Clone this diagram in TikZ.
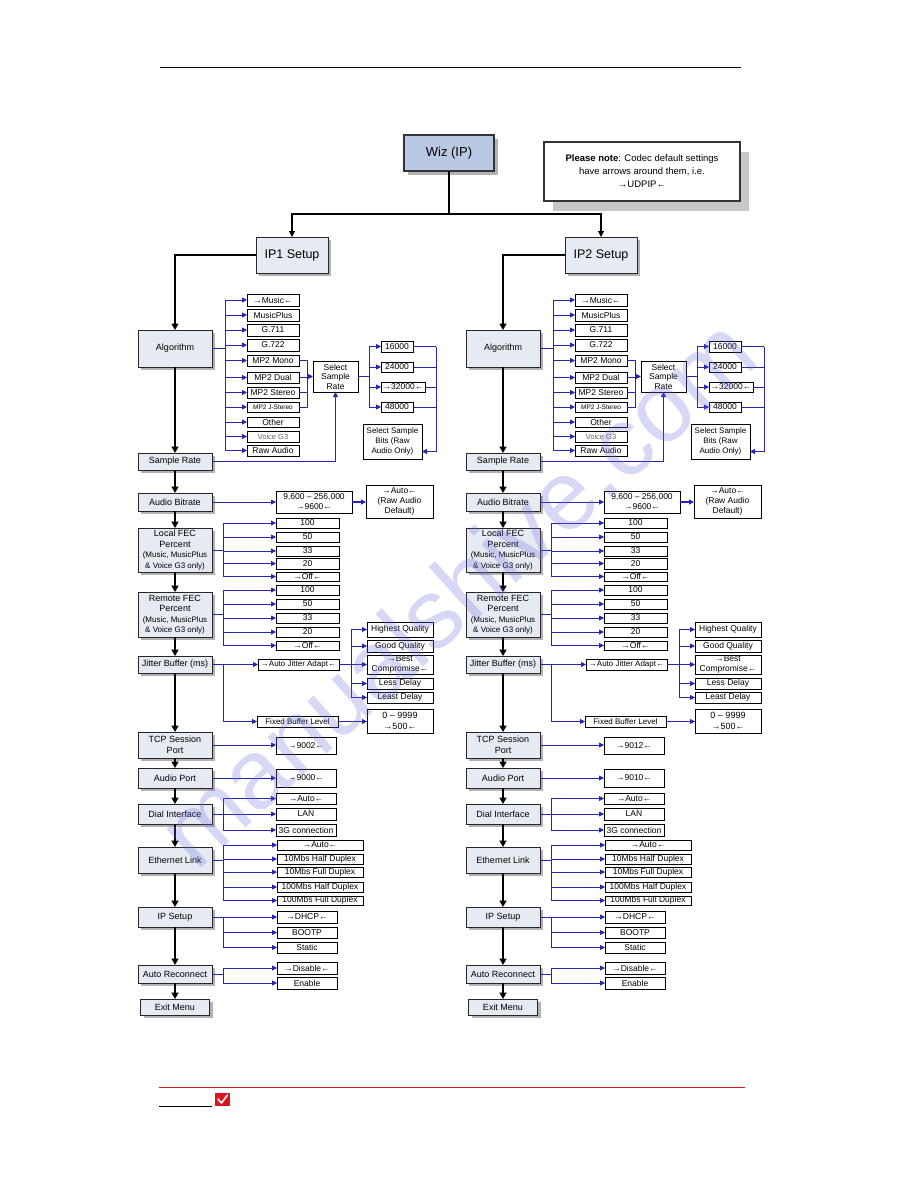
\documentclass[tikz,border=0pt]{standalone}
\usepackage{fontspec}
\setmainfont{Liberation Sans}
\usetikzlibrary{arrows.meta,shadows}
\definecolor{mainfill}{RGB}{230,235,243}
\definecolor{wizfill}{RGB}{185,201,227}
\definecolor{linkblue}{RGB}{38,38,178}
\definecolor{wmcol}{RGB}{110,110,225}
\definecolor{shade}{RGB}{178,178,178}
\definecolor{footred}{RGB}{220,20,30}
\newcommand\fs[2]{\fontsize{#1}{#2}\selectfont}
\newcommand\rarr{→}
\newcommand\larr{←}
\newcommand\bx[7]{\node[#1, anchor=north west, minimum width={(#5)-(#3)}, minimum height={(#6)-(#4)}] (#2) at (#3,#4) {#7};}
\tikzset{
  every node/.style={inner sep=0.5pt, outer sep=0pt},
  mainbox/.style={draw=black!85, line width=0.8pt, fill=mainfill, align=center, font=\fs{9}{10.5},
    drop shadow={shadow xshift=3pt, shadow yshift=-3pt, fill=shade, opacity=1}},
  wizbox/.style={draw=black!80, line width=1.8pt, fill=wizfill, align=center, font=\fs{13}{15},
    drop shadow={shadow xshift=4pt, shadow yshift=-4pt, fill=shade, opacity=1}},
  notebox/.style={draw=black!80, line width=1.5pt, fill=white, align=center, font=\fs{9.5}{13},
    drop shadow={shadow xshift=9pt, shadow yshift=-10pt, fill=black!22, opacity=1}},
  optbox/.style={draw=black, line width=0.7pt, fill=white, align=center, font=\fs{8.5}{9.5}},
  bl/.style={draw=linkblue, line width=0.9pt},
  bla/.style={bl, -{Triangle[length=5pt,width=5pt]}},
  flow/.style={draw=black, line width=1.6pt, -{Triangle[length=6.5pt,width=7pt]}},
  blk/.style={draw=black, line width=1.1pt, -{Triangle[length=6pt,width=6pt]}},
}
\newcommand\drawcol[3]{%
\bx{mainbox}{#1alg}{138}{330}{212}{367}{Algorithm}
\bx{mainbox}{#1sr}{138}{453}{212}{470}{Sample Rate}
\bx{mainbox}{#1ab}{138}{493}{212}{511}{Audio Bitrate}
\bx{mainbox}{#1lf}{138}{528}{212}{572}{Local FEC\\Percent\\{\fs{8}{10.5}(Music, MusicPlus}\\{\fs{8}{10.5}\& Voice G3 only)}}
\bx{mainbox}{#1rf}{138}{592}{212}{637}{Remote FEC\\Percent\\{\fs{8}{10.5}(Music, MusicPlus}\\{\fs{8}{10.5}\& Voice G3 only)}}
\bx{mainbox}{#1jb}{138}{656}{212}{673}{Jitter Buffer (ms)}
\bx{mainbox}{#1tcp}{138}{732}{212}{758}{TCP Session\\Port}
\bx{mainbox}{#1ap}{138}{768}{212}{788}{Audio Port}
\bx{mainbox}{#1di}{138}{804}{212}{824}{Dial Interface}
\bx{mainbox}{#1el}{138}{847}{212}{873}{Ethernet Link}
\bx{mainbox}{#1ip}{138}{907}{212}{927}{IP Setup}
\bx{mainbox}{#1ar}{138}{965}{212}{983}{Auto Reconnect}
\bx{mainbox}{#1ex}{140.5}{999}{209.5}{1015}{Exit Menu}
\foreach \p/\q in {alg/sr,sr/ab,ab/lf,lf/rf,rf/jb,jb/tcp,tcp/ap,ap/di,di/el,el/ip,ip/ar,ar/ex}
  {\draw[flow] (#1\p.south) -- (#1\q.north);}
% algorithm options
\bx{optbox}{#1m1}{247}{294}{299}{306}{\rarr Music\larr}
\bx{optbox}{#1m2}{247}{309}{299}{321}{MusicPlus}
\bx{optbox}{#1m3}{247}{324}{299}{336}{G.711}
\bx{optbox}{#1m4}{247}{339}{299}{351}{G.722}
\bx{optbox}{#1m5}{247}{355}{299}{366}{MP2 Mono}
\bx{optbox}{#1m6}{247}{372}{299}{383}{MP2 Dual}
\bx{optbox}{#1m7}{247}{387}{299}{398}{MP2 Stereo}
\bx{optbox,font=\fs{6.5}{8}}{#1m8}{247}{402}{299}{412}{MP2 J-Stereo}
\bx{optbox}{#1m9}{247}{417}{299}{427}{Other}
\bx{optbox,font=\fs{7.5}{8.5},text=black!60}{#1m10}{247}{431}{299}{442}{Voice G3}
\bx{optbox}{#1m11}{247}{445}{299}{456}{Raw Audio}
\path (#1alg.east) ++(13,0) coordinate (#1bA);
\draw[bl] (#1alg.east) -- (#1bA);
\draw[bl] (#1bA |- #1m1.west) -- (#1bA |- #1m11.west);
\foreach \i in {1,...,11} {\draw[bla] (#1bA |- #1m\i.west) -- (#1m\i.west);}
% MP2 group to select sample rate
\bx{optbox}{#1ssr}{313}{361}{358}{392}{Select\\Sample\\Rate}
\path (#1m5.east) ++(8,0) coordinate (#1bM);
\draw[bl] (#1m5.east) -- (#1bM) -- (#1bM |- #1m8.east) -- (#1m8.east);
\draw[bl] (#1m6.east) -- (#1bM |- #1m6.east);
\draw[bl] (#1m7.east) -- (#1bM |- #1m7.east);
\draw[bla] (#1bM |- #1ssr.west) -- (#1ssr.west);
\draw[bla] (#1sr.east) -| (#1ssr.south);
% rates
\bx{optbox}{#1r1}{381}{341}{413}{352}{16000}
\bx{optbox}{#1r2}{381}{362}{413}{372}{24000}
\bx{optbox}{#1r3}{381}{382}{425}{392}{\rarr 32000\larr}
\bx{optbox}{#1r4}{381}{402}{413}{412}{48000}
\path (#1ssr.east) ++(11,0) coordinate (#1bR);
\draw[bl] (#1ssr.east) -- (#1bR);
\draw[bl] (#1bR |- #1r1.west) -- (#1bR |- #1r4.west);
\foreach \i in {1,...,4} {\draw[bla] (#1bR |- #1r\i.west) -- (#1r\i.west);}
\bx{optbox,font=\fs{8}{10}}{#1sb}{363}{424}{422}{459}{Select Sample\\Bits (Raw\\Audio Only)}
\path (#1r1.east) ++(23,0) coordinate (#1bS);
\foreach \i in {1,...,4} {\draw[bl] (#1r\i.east) -- (#1bS |- #1r\i.east);}
\draw[bla] (#1bS) |- ([yshift=-10pt]#1sb.east);
% audio bitrate
\bx{optbox,font=\fs{8.5}{10}}{#1rg}{276}{491}{352}{513}{9,600 – 256,000\\\rarr 9600\larr}
\bx{optbox,font=\fs{8.5}{10}}{#1au}{366}{485}{433}{518}{\rarr Auto\larr\\(Raw Audio\\Default)}
\draw[bla] (#1ab.east) -- (#1ab.east -| #1rg.west);
\draw[bla, line width=1.4pt] (#1rg.east) -- (#1rg.east -| #1au.west);
% local FEC
\bx{optbox}{#1l1}{276}{518}{339}{528}{100}
\bx{optbox}{#1l2}{276}{532}{339}{542}{50}
\bx{optbox}{#1l3}{276}{546}{339}{556}{33}
\bx{optbox}{#1l4}{276}{558}{339}{569}{20}
\bx{optbox}{#1l5}{276}{572}{339}{581}{\rarr Off\larr}
\path (#1lf.east) ++(11,0) coordinate (#1bL);
\draw[bl] (#1lf.east) -- (#1bL);
\draw[bl] (#1bL |- #1l1.west) -- (#1bL |- #1l5.west);
\foreach \i in {1,...,5} {\draw[bla] (#1bL |- #1l\i.west) -- (#1l\i.west);}
% remote FEC
\bx{optbox}{#1q1}{276}{585}{339}{595}{100}
\bx{optbox}{#1q2}{276}{599}{339}{609}{50}
\bx{optbox}{#1q3}{276}{613}{339}{623}{33}
\bx{optbox}{#1q4}{276}{627}{339}{637}{20}
\bx{optbox}{#1q5}{276}{641}{339}{650}{\rarr Off\larr}
\path (#1rf.east) ++(11,0) coordinate (#1bQ);
\draw[bl] (#1rf.east) -- (#1bQ);
\draw[bl] (#1bQ |- #1q1.west) -- (#1bQ |- #1q5.west);
\foreach \i in {1,...,5} {\draw[bla] (#1bQ |- #1q\i.west) -- (#1q\i.west);}
% jitter buffer
\bx{optbox,font=\fs{8}{9}}{#1aja}{258}{659}{339}{670}{\rarr Auto Jitter Adapt\larr}
\bx{optbox,font=\fs{8}{9}}{#1fbl}{257}{716}{338}{727}{Fixed Buffer Level}
\path (#1jb.east) ++(11,0) coordinate (#1bJ);
\draw[bl] (#1jb.east) -- (#1bJ);
\draw[bla] (#1bJ) -- (#1bJ -| #1aja.west);
\draw[bla] (#1bJ) |- (#1fbl.west);
\bx{optbox}{#1h1}{367}{622}{433}{637}{Highest Quality}
\bx{optbox}{#1h2}{367}{640}{433}{652}{Good Quality}
\bx{optbox}{#1h3}{367}{655}{433}{674}{\rarr Best\\Compromise\larr}
\bx{optbox}{#1h4}{367}{678}{433}{689}{Less Delay}
\bx{optbox}{#1h5}{367}{692}{433}{703}{Least Delay}
\path (#1aja.east) ++(12,0) coordinate (#1bH);
\draw[bl] (#1aja.east) -- (#1bH);
\draw[bl] (#1bH |- #1h1.west) -- (#1bH |- #1h5.west);
\foreach \i in {1,...,5} {\draw[bla] (#1bH |- #1h\i.west) -- (#1h\i.west);}
\bx{optbox,font=\fs{9}{11}}{#1fb9}{367}{709}{433}{733}{0 – 9999\\\rarr 500\larr}
\draw[bla] (#1fbl.east) -- (#1fbl.east -| #1fb9.west);
% ports
\bx{optbox}{#1p1}{276}{737}{336}{754}{\rarr #2\larr}
\draw[bla] (#1tcp.east) -- (#1tcp.east -| #1p1.west);
\bx{optbox}{#1p2}{276}{769}{336}{787}{\rarr #3\larr}
\draw[bla] (#1ap.east) -- (#1ap.east -| #1p2.west);
% dial interface
\bx{optbox}{#1d1}{276}{793}{336}{804}{\rarr Auto\larr}
\bx{optbox}{#1d2}{276}{808}{336}{820}{LAN}
\bx{optbox}{#1d3}{276}{824}{336}{836}{3G connection}
\path (#1di.east) ++(11,0) coordinate (#1bD);
\draw[bl] (#1di.east) -- (#1bD);
\draw[bl] (#1bD |- #1d1.west) -- (#1bD |- #1d3.west);
\foreach \i in {1,...,3} {\draw[bla] (#1bD |- #1d\i.west) -- (#1d\i.west);}
% ethernet link
\bx{optbox}{#1e1}{277}{840}{363}{850}{\rarr Auto\larr}
\bx{optbox}{#1e2}{277}{854}{363}{864}{10Mbs Half Duplex}
\bx{optbox}{#1e3}{277}{867}{363}{877}{10Mbs Full Duplex}
\bx{optbox}{#1e4}{277}{882}{363}{892}{100Mbs Half Duplex}
\bx{optbox}{#1e5}{277}{896}{363}{905}{100Mbs Full Duplex}
\path (#1el.east) ++(11,0) coordinate (#1bE);
\draw[bl] (#1el.east) -- (#1bE);
\draw[bl] (#1bE |- #1e1.west) -- (#1bE |- #1e5.west);
\foreach \i in {1,...,5} {\draw[bla] (#1bE |- #1e\i.west) -- (#1e\i.west);}
% IP setup
\bx{optbox}{#1i1}{277}{911}{337}{923}{\rarr DHCP\larr}
\bx{optbox}{#1i2}{277}{927}{337}{938}{BOOTP}
\bx{optbox}{#1i3}{277}{942}{337}{953}{Static}
\path (#1ip.east) ++(11,0) coordinate (#1bI);
\draw[bl] (#1ip.east) -- (#1bI);
\draw[bl] (#1bI |- #1i1.west) -- (#1bI |- #1i3.west);
\foreach \i in {1,...,3} {\draw[bla] (#1bI |- #1i\i.west) -- (#1i\i.west);}
% auto reconnect
\bx{optbox}{#1a1}{277}{962}{337}{974}{\rarr Disable\larr}
\bx{optbox}{#1a2}{277}{977}{337}{989}{Enable}
\path (#1ar.east) ++(11,0) coordinate (#1bX);
\draw[bl] (#1ar.east) -- (#1bX);
\draw[bl] (#1bX |- #1a1.west) -- (#1bX |- #1a2.west);
\foreach \i in {1,2} {\draw[bla] (#1bX |- #1a\i.west) -- (#1a\i.west);}
}
\begin{document}
\begin{tikzpicture}[x=1pt,y=-1pt]
\useasboundingbox (0,0) rectangle (918,1188);
\fill[white] (0,0) rectangle (918,1188);
% header rule
\draw[line width=1pt] (160,68) -- (741,68);
% top
\bx{wizbox}{wiz}{404}{135}{494}{171}{Wiz (IP)}
\bx{notebox}{note}{544}{142}{740}{201}{\textbf{Please note}: Codec default settings\\have arrows around them, i.e.\\\rarr UDPIP\larr}
\bx{mainbox,font=\fs{12.5}{14}}{ip1}{256}{237}{328}{273}{IP1 Setup}
\bx{mainbox,font=\fs{12.5}{14}}{ip2}{565}{237}{637}{273}{IP2 Setup}
\draw[line width=1.4pt] (wiz.south) -- ++(0,43) coordinate (wj);
\draw[blk] (wj) -| (ip1.north);
\draw[blk] (wj) -| (ip2.north);
% columns
\drawcol{L}{9002}{9000}
\begin{scope}[xshift=328pt]
\drawcol{R}{9012}{9010}
\end{scope}
\draw[flow] (ip1.west) -| (Lalg.north);
\draw[flow] (ip2.west) -| (Ralg.north);
% footer
\draw[footred, line width=0.9pt] (159,1087) -- (745,1087);
\draw[line width=0.8pt] (159,1106) -- (212,1106);
\fill[footred] (215,1093) rectangle (230,1106);
\draw[white, line width=1.6pt, line cap=round, line join=round] (218,1099) -- (221.5,1103) -- (227.5,1095);
% watermark
\node[rotate=42, anchor=base west, font=\fs{98}{98}, text=wmcol, text opacity=0.27, inner sep=0] (wm) at (196,872) {manualshive.com};
\end{tikzpicture}
\end{document}
